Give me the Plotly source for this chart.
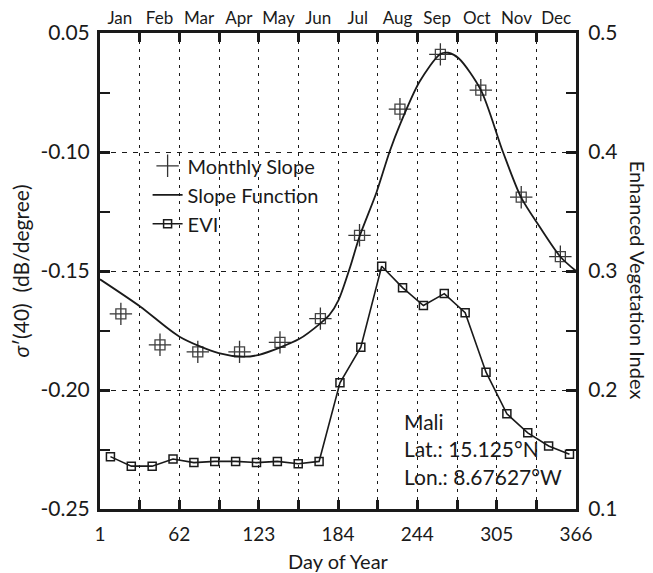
import plotly.graph_objects as go

# ---- data ----
months = ["Jan", "Feb", "Mar", "Apr", "May", "Jun", "Jul", "Aug", "Sep", "Oct", "Nov", "Dec"]
day_tick_labels = ["1", "", "62", "", "123", "", "184", "", "244", "", "305", "", "366"]

slope_day = [17, 47, 76, 108, 139, 170, 200, 231, 262, 293, 324, 354]
slope_val = [-0.168, -0.181, -0.184, -0.184, -0.180, -0.170, -0.135, -0.082, -0.059, -0.074, -0.119, -0.144]

curve_day = [1, 32, 62, 92, 111, 123, 154, 170, 177, 184, 193, 200, 213, 223, 231, 246,
             262, 268, 276, 293, 310, 324, 338, 354, 366]
curve_val = [-0.1535, -0.165, -0.1776, -0.1845, -0.186, -0.1852, -0.1785, -0.172, -0.1684,
             -0.1621, -0.148, -0.1355, -0.117, -0.100, -0.0885, -0.0705, -0.0588, -0.0583,
             -0.0606, -0.0739, -0.100, -0.1192, -0.1313, -0.144, -0.150]

evi_day = [9, 25, 41, 57, 73, 89, 105, 121, 137, 153, 169, 185, 201, 217, 233, 249, 265,
           281, 297, 313, 329, 345, 361]
evi_val = [0.144, 0.136, 0.136, 0.142, 0.139, 0.140, 0.140, 0.139, 0.140, 0.138, 0.140,
           0.206, 0.236, 0.304, 0.286, 0.271, 0.281, 0.265, 0.215, 0.180, 0.164, 0.153, 0.146]

left_ticks = [-0.25, -0.20, -0.15, -0.10, -0.05]
left_tick_text = ["-0.25", "-0.20", "-0.15", "-0.10", "0.05"]
right_ticks = [0.1, 0.2, 0.3, 0.4, 0.5]
right_tick_text = ["0.1", "0.2", "0.3", "0.4", "0.5"]

site_text = "Mali<br>Lat.: 15.125°N<br>Lon.: 8.67627°W"

# ---- derived positions ----
x0, x1 = 1, 366
step = (x1 - x0) / 12
month_bounds = [x0 + k * step for k in range(13)]
month_mids = [x0 + (k + 0.5) * step for k in range(12)]
left_minor = [left_ticks[i] + 0.025 for i in range(4)]
right_minor = [right_ticks[i] + 0.05 for i in range(4)]

FONT = "Lato, 'Open Sans', sans-serif"
INK = "#1a1a1a"

fig = go.Figure()

fig.add_trace(go.Scatter(
    x=slope_day, y=slope_val, mode="markers", name="Monthly Slope",
    legendgroup="ms",
    marker=dict(symbol="cross-thin-open", size=16, color="#333",
                line=dict(width=1.3, color="#333")),
    cliponaxis=False,
))
fig.add_trace(go.Scatter(
    x=slope_day, y=slope_val, mode="markers", name="Monthly Slope",
    legendgroup="ms", showlegend=False,
    marker=dict(symbol="square-open", size=10, color="#444",
                line=dict(width=1.3, color="#444")),
    cliponaxis=False,
))
fig.add_trace(go.Scatter(
    x=curve_day, y=curve_val, mode="lines", name="Slope Function",
    line=dict(color=INK, width=1.8, shape="spline", smoothing=0.8),
))
fig.add_trace(go.Scatter(
    x=evi_day, y=evi_val, mode="lines+markers", name="EVI", xaxis="x2", yaxis="y2",
    line=dict(color=INK, width=1.6),
    marker=dict(symbol="square-open", size=8, color=INK, line=dict(width=1.5, color=INK)),
    cliponaxis=False,
))

fig.update_layout(
    width=645, height=565,
    margin=dict(l=92, r=77, t=25, b=64, autoexpand=False),
    paper_bgcolor="white", plot_bgcolor="white",
    font=dict(family=FONT, color=INK, size=20),
    showlegend=True,
    legend=dict(x=0.10, y=0.762, xanchor="left", yanchor="top",
                bgcolor="rgba(0,0,0,0)", font=dict(size=20, family=FONT, color=INK),
                tracegroupgap=0),
    xaxis=dict(
        range=[x0, x1], tickmode="array", tickvals=month_bounds, ticktext=day_tick_labels,
        ticks="inside", ticklen=9, tickwidth=2.5, tickcolor=INK,
        showline=True, linewidth=3, linecolor=INK, mirror="ticks",
        showgrid=True, gridcolor=INK, gridwidth=1.3, griddash="3px,5px",
        zeroline=False, tickfont=dict(size=19), ticklabelstandoff=6, automargin=False,
        title=dict(text="Day of Year", font=dict(size=20), standoff=13),
    ),
    xaxis2=dict(
        range=[x0, x1], overlaying="x", side="top", tickmode="array",
        tickvals=month_mids, ticktext=months, ticks="", showline=False,
        showgrid=False, zeroline=False, tickfont=dict(size=17), ticklabelstandoff=5,
        automargin=False,
    ),
    yaxis=dict(
        range=[-0.25, -0.05], tickmode="array", tickvals=left_ticks, ticktext=left_tick_text,
        ticks="inside", ticklen=10, tickwidth=3, tickcolor=INK,
        minor=dict(tickmode="array", tickvals=left_minor, ticks="inside", ticklen=10,
                   tickwidth=2, tickcolor=INK, showgrid=False),
        showline=True, linewidth=3, linecolor=INK,
        showgrid=True, gridcolor=INK, gridwidth=1.3, griddash="5px,6px",
        zeroline=False, tickfont=dict(size=21), ticklabelstandoff=3, automargin=False,
        title=dict(text="<i>σ</i>′(40)\u00a0\u00a0(dB/degree)", font=dict(size=21), standoff=6),
    ),
    yaxis2=dict(
        range=[0.1, 0.5], overlaying="y", side="right", anchor="x2", tickmode="array",
        tickvals=right_ticks, ticktext=right_tick_text,
        ticks="inside", ticklen=10, tickwidth=3, tickcolor=INK,
        minor=dict(tickmode="array", tickvals=right_minor, ticks="inside", ticklen=10,
                   tickwidth=2, tickcolor=INK, showgrid=False),
        showline=True, linewidth=3, linecolor=INK,
        showgrid=False, zeroline=False, tickfont=dict(size=21), ticklabelstandoff=5,
        automargin=False,
    ),
    annotations=[
        dict(text=site_text, xref="paper", yref="paper", x=0.634, y=0.215,
             xanchor="left", yanchor="top", align="left", showarrow=False,
             font=dict(size=21, family=FONT, color=INK)),
        dict(text="Enhanced Vegetation Index", xref="paper", yref="paper",
             x=1.132, y=0.48, xanchor="center", yanchor="middle", textangle=90,
             showarrow=False, font=dict(size=20, family=FONT, color=INK)),
    ],
)

fig.write_html("out.html")
